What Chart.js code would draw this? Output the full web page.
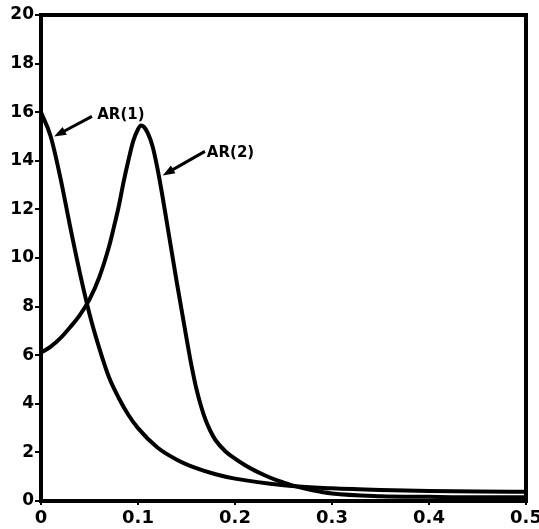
<!DOCTYPE html>
<html>
<head>
<meta charset="utf-8">
<script src="https://cdn.jsdelivr.net/npm/chart.js@4"></script>
<style>
  html, body { margin: 0; padding: 0; background: #fff; }
  #wrap { width: 539px; height: 529px; }
</style>
</head>
<body>
<div id="wrap"><canvas id="myChart" width="539" height="529"></canvas></div>
<script>
// frequency values and spectra
let freqAR1 = [0, 0.01, 0.02, 0.03, 0.04, 0.05, 0.06, 0.07, 0.08, 0.09, 0.1, 0.12, 0.14, 0.16, 0.18, 0.2, 0.25, 0.3, 0.35, 0.4, 0.45, 0.5];
let specAR1 = [16.0, 15.0, 13.3, 11.3, 9.4, 7.7, 6.3, 5.1, 4.25, 3.55, 3.0, 2.2, 1.7, 1.35, 1.1, 0.92, 0.65, 0.52, 0.45, 0.41, 0.39, 0.38];

let freqAR2 = [0, 0.01, 0.02, 0.03, 0.04, 0.05, 0.06, 0.07, 0.075, 0.08, 0.085, 0.09, 0.095, 0.1, 0.103, 0.106, 0.11, 0.115, 0.12, 0.125, 0.13, 0.14, 0.15, 0.155, 0.16, 0.165, 0.17, 0.175, 0.18, 0.19, 0.2, 0.21, 0.22, 0.23, 0.24, 0.25, 0.26, 0.28, 0.3, 0.35, 0.4, 0.45, 0.5];
let specAR2 = [6.1, 6.35, 6.7, 7.15, 7.65, 8.3, 9.2, 10.45, 11.25, 12.1, 13.1, 14.0, 14.8, 15.3, 15.45, 15.4, 15.15, 14.6, 13.7, 12.6, 11.4, 9.0, 6.7, 5.6, 4.65, 3.9, 3.3, 2.85, 2.5, 2.05, 1.74, 1.48, 1.26, 1.07, 0.9, 0.76, 0.63, 0.44, 0.31, 0.2, 0.17, 0.15, 0.15];

let xTickLabels = ['0', '0.1', '0.2', '0.3', '0.4', '0.5'];
let yTickLabels = ['0', '2', '4', '6', '8', '10', '12', '14', '16', '18', '20'];
let seriesNames = ['AR(1)', 'AR(2)'];

// label + arrow placement, in data units
let notes = [
    { text: seriesNames[0], tx: 0.058, ty: 15.7, from: [0.0525, 15.83], to: [0.0135, 15.0] },
    { text: seriesNames[1], tx: 0.171, ty: 14.14, from: [0.169, 14.39], to: [0.1255, 13.4] }
];

function pts(xs, ys) {
    return xs.map(function (x, i) { return { x: x, y: ys[i] }; });
}

const fontFam = '"DejaVu Sans", "Liberation Sans", sans-serif';

const boxAndNotes = {
    id: 'boxAndNotes',
    afterDatasetsDraw(chart) {
        let c = chart.ctx;
        let a = chart.chartArea;
        let xs = chart.scales.x, ys = chart.scales.y;
        c.save();
        c.strokeStyle = '#000';
        c.lineWidth = 4;
        c.strokeRect(a.left, a.top, a.right - a.left, a.bottom - a.top);

        c.fillStyle = '#000';
        c.font = 'bold 15px ' + fontFam;
        c.textBaseline = 'alphabetic';
        notes.forEach(function (n) {
            c.fillText(n.text, xs.getPixelForValue(n.tx), ys.getPixelForValue(n.ty));
            let x1 = xs.getPixelForValue(n.from[0]), y1 = ys.getPixelForValue(n.from[1]);
            let x2 = xs.getPixelForValue(n.to[0]), y2 = ys.getPixelForValue(n.to[1]);
            let ang = Math.atan2(y2 - y1, x2 - x1);
            let hl = 12, hw = 4.5;
            c.lineWidth = 3;
            c.beginPath();
            c.moveTo(x1, y1);
            c.lineTo(x2 - Math.cos(ang) * hl * 0.8, y2 - Math.sin(ang) * hl * 0.8);
            c.stroke();
            c.beginPath();
            c.moveTo(x2, y2);
            c.lineTo(x2 - Math.cos(ang) * hl - Math.sin(ang) * hw, y2 - Math.sin(ang) * hl + Math.cos(ang) * hw);
            c.lineTo(x2 - Math.cos(ang) * hl + Math.sin(ang) * hw, y2 - Math.sin(ang) * hl - Math.cos(ang) * hw);
            c.closePath();
            c.fill();
        });
        c.restore();
    }
};

let ctx = document.getElementById('myChart');
if (ctx !== null) {
    new Chart(ctx, {
        type: 'line',
        data: {
            datasets: [{
                label: seriesNames[0],
                data: pts(freqAR1, specAR1),
                borderColor: '#000',
                borderWidth: 4,
                pointRadius: 0,
                cubicInterpolationMode: 'monotone',
                fill: false
            }, {
                label: seriesNames[1],
                data: pts(freqAR2, specAR2),
                borderColor: '#000',
                borderWidth: 4,
                pointRadius: 0,
                cubicInterpolationMode: 'monotone',
                fill: false
            }]
        },
        options: {
            responsive: false,
            animation: false,
            events: [],
            layout: { padding: { left: 0, top: 15, right: 13, bottom: 0 } },
            plugins: {
                legend: { display: false },
                tooltip: { enabled: false }
            },
            scales: {
                x: {
                    type: 'linear',
                    min: 0,
                    max: 0.5,
                    border: { display: false },
                    grid: { drawOnChartArea: false, drawTicks: true, tickLength: 4, color: '#000', lineWidth: 2 },
                    ticks: {
                        stepSize: 0.1,
                        autoSkip: false,
                        maxRotation: 0,
                        padding: 3,
                        color: '#000',
                        font: { family: fontFam, size: 18, weight: 'bold' },
                        callback: function (v, i) { return xTickLabels[i]; }
                    },
                    afterFit: function (s) { s.height = 28; s.paddingLeft = 0; s.paddingRight = 0; }
                },
                y: {
                    min: 0,
                    max: 20,
                    border: { display: false },
                    grid: { drawOnChartArea: false, drawTicks: true, tickLength: 6, color: '#000', lineWidth: 2 },
                    ticks: {
                        stepSize: 2,
                        padding: 1,
                        color: '#000',
                        font: { family: fontFam, size: 17, weight: 'bold' },
                        callback: function (v, i) { return yTickLabels[i]; }
                    },
                    afterFit: function (s) { s.width = 41; s.paddingTop = 0; s.paddingBottom = 0; }
                }
            }
        },
        plugins: [boxAndNotes]
    });
}
</script>
</body>
</html>
